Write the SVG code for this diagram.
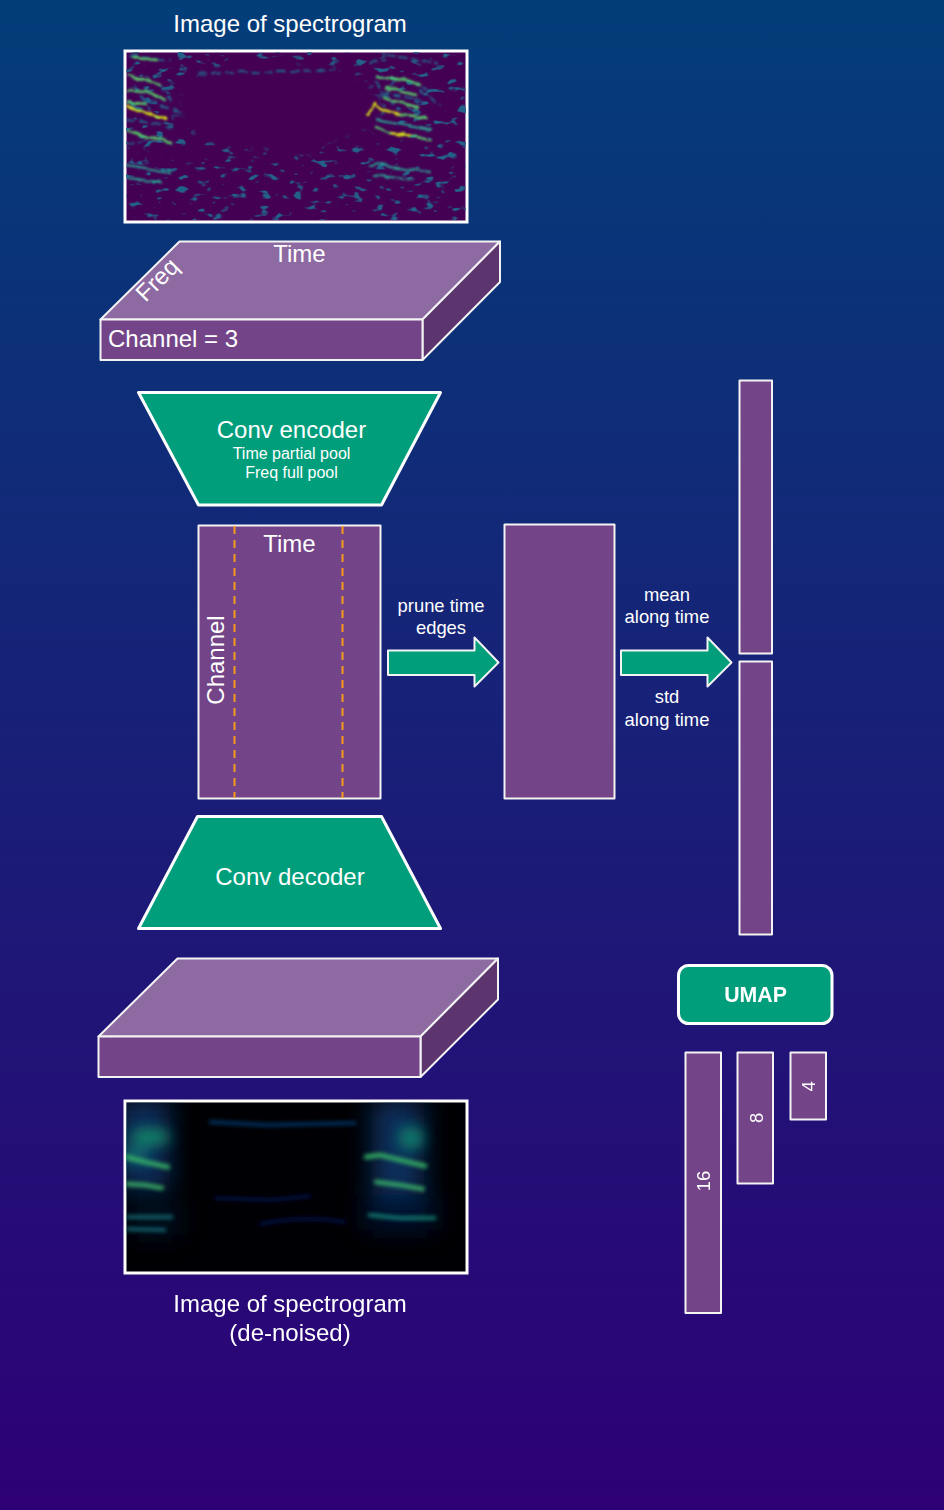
<svg xmlns="http://www.w3.org/2000/svg" width="944" height="1510" viewBox="0 0 944 1510">
<style>
text{font-family:"Liberation Sans",Arial,sans-serif;fill:#fff}
.m{text-anchor:middle}
.t24{font-size:24px}.t18{font-size:18.4px}.t14{font-size:16px}
.face{fill:#734588;stroke:#f3f3f3;stroke-width:2;stroke-linejoin:round}
.top{fill:#8e6aa2;stroke:#f3f3f3;stroke-width:2;stroke-linejoin:round}
.side{fill:#5c356f;stroke:#f3f3f3;stroke-width:2;stroke-linejoin:round}
.green{fill:#019e7c;stroke:#f3f3f3;stroke-width:2;stroke-linejoin:round}
.thick{stroke:#fff;stroke-width:3}
.s{fill:none;stroke-linecap:round;stroke-linejoin:round}
.a{stroke:#2a9d8f;stroke-width:2.200}
.b{stroke:#54c568;stroke-width:2.400}
.c{stroke:#d8e219;stroke-width:2.400}
.d{stroke:#22688c;stroke-width:1.800}
</style>
<defs>
<linearGradient id="bg" x1="0" y1="0" x2="0" y2="1"><stop offset="0" stop-color="#033e79"/><stop offset="1" stop-color="#2e0076"/></linearGradient>
<filter id="speck" x="0" y="0" width="1" height="1" color-interpolation-filters="sRGB"><feTurbulence type="fractalNoise" baseFrequency="0.085 0.15" numOctaves="2" seed="11"/><feColorMatrix values="0 0 0 0 0.14  0 0 0 0 0.38  0 0 0 0 0.54  0 0 0 7 -4.200"/><feGaussianBlur stdDeviation="0.7"/></filter>
<radialGradient id="hole" gradientUnits="userSpaceOnUse" cx="0" cy="0" r="1" gradientTransform="translate(278 106) scale(118 50)"><stop offset="0.8" stop-color="#000"/><stop offset="1" stop-color="#fff"/></radialGradient>
<mask id="mk" maskUnits="userSpaceOnUse" x="126" y="52" width="340" height="168"><rect x="126" y="52" width="340" height="168" fill="url(#hole)"/></mask>
<filter id="b1" x="-30%" y="-300%" width="160%" height="700%"><feGaussianBlur stdDeviation="2"/></filter>
<filter id="b2" x="-60%" y="-60%" width="220%" height="220%"><feGaussianBlur stdDeviation="12"/></filter>
<filter id="b3" x="-60%" y="-60%" width="220%" height="220%"><feGaussianBlur stdDeviation="7"/></filter>
<filter id="sb" x="-10%" y="-10%" width="120%" height="120%"><feTurbulence type="fractalNoise" baseFrequency="0.09" numOctaves="2" seed="3" result="n"/><feDisplacementMap in="SourceGraphic" in2="n" scale="5" xChannelSelector="R" yChannelSelector="G"/><feGaussianBlur stdDeviation="0.8"/></filter>
<clipPath id="c1"><rect x="126.500" y="52.500" width="339" height="168"/></clipPath>
<clipPath id="c2"><rect x="126" y="1102" width="340" height="170"/></clipPath>
</defs>
<rect width="944" height="1510" fill="url(#bg)"/>

<g id="spectrogram-input">
<text class="t24 m" x="290" y="32">Image of spectrogram</text>
<rect x="125" y="51" width="342" height="171" fill="#440154" stroke="#fff" stroke-width="3"/>
<g mask="url(#mk)"><rect x="126" y="52" width="340" height="168" filter="url(#speck)"/></g>
<g clip-path="url(#c1)"><g filter="url(#sb)">
<path class="s d" stroke-dasharray="7 6" d="M200 73L240 72L300 72L335 70M130 56L170 60M127 120L160 124L172 128M150 100L185 116M160 85L178 112M135 85L150 110M127 145L145 140"/>
<path class="s b" d="M133 58L157 60M127 75Q145 79 161 85M127 91L150 92L165 100M127 102L146 104"/>
<path class="s c" d="M127 107L146 113L167 119"/>
<path class="s b" d="M127 130L147 137L170 143"/>
<path class="s a" d="M127 165L145 168L170 172M127 178L160 182"/>
<path class="s d" stroke-dasharray="7 5" d="M387 55L437 63M377 76L407 80L432 92M376 82L382 92L420 100M370 62L385 60M395 80L385 95L400 110M420 90L440 105"/>
<path class="s b" d="M387 88L417 95M377 77L407 80L420 85M383 98L417 107"/>
<path class="s c" d="M368 115L375 103L383 110L400 114"/>
<path class="s b" d="M400 114L427 118"/>
<path class="s a" d="M376 120L430 130"/>
<path class="s c" d="M390 133L412 136"/>
<path class="s b" d="M377 127L390 133M412 136L430 140"/>
<path class="s a" d="M370 165L380 163L390 167L430 172M373 175L413 180"/>
</g></g>
</g>

<g id="input-block">
<polygon class="top" points="100.500,319.500 179.500,241.500 500,241.500 422.500,319.500"/>
<polygon class="side" points="422.500,319.500 500,241.500 500,282 422.500,360"/>
<rect class="face" x="100.500" y="319.500" width="322" height="40.500"/>
<text class="t24 m" x="299.500" y="262">Time</text>
<text class="t24 m" transform="translate(163 285.500) rotate(-45)">Freq</text>
<text class="t24" x="108" y="347">Channel = 3</text>
</g>

<g id="conv-encoder">
<polygon class="green thick" points="138.500,392.500 440.500,392.500 381.500,505 198.500,505"/>
<text class="t24 m" x="291.500" y="438">Conv encoder</text>
<text class="t14 m" x="291.500" y="459">Time partial pool</text>
<text class="t14 m" x="291.500" y="478">Freq full pool</text>
</g>

<g id="latent">
<rect class="face" x="198.500" y="525.500" width="182" height="273"/>
<path d="M234.500 526V798M342.500 526V798" fill="none" stroke="#f79a1c" stroke-width="2" stroke-dasharray="8 6"/>
<text class="t24 m" x="289.500" y="552">Time</text>
<text class="t24 m" transform="translate(224 660) rotate(-90)">Channel</text>
</g>

<g id="pruned"><rect class="face" x="504.500" y="524.500" width="110" height="274"/></g>
<g id="mean-bar"><rect class="face" x="739.500" y="380.500" width="32.500" height="273"/></g>
<g id="std-bar"><rect class="face" x="739.500" y="661.500" width="32.500" height="273"/></g>

<g id="connectors">
<polygon class="green" points="388,650.500 474.500,650.500 474.500,637.500 498.500,662.500 474.500,686.500 474.500,675 388,675"/>
<polygon class="green" points="621,650.500 707.500,650.500 707.500,637.500 731.500,662.500 707.500,686.500 707.500,675 621,675"/>
<text class="t18 m" x="441" y="612">prune time</text>
<text class="t18 m" x="441" y="634">edges</text>
<text class="t18 m" x="667" y="601">mean</text>
<text class="t18 m" x="667" y="623">along time</text>
<text class="t18 m" x="667" y="703">std</text>
<text class="t18 m" x="667" y="726">along time</text>
</g>

<g id="conv-decoder">
<polygon class="green thick" points="197.500,816.500 381.500,816.500 440.500,928.500 138.500,928.500"/>
<text class="t24 m" x="290" y="885">Conv decoder</text>
</g>

<g id="output-block">
<polygon class="top" points="98.500,1036.500 177.500,958.500 498,958.500 420.500,1036.500"/>
<polygon class="side" points="420.500,1036.500 498,958.500 498,999.500 420.500,1077"/>
<rect class="face" x="98.500" y="1036.500" width="322" height="40.500"/>
</g>

<g id="spectrogram-output">
<rect x="125" y="1101" width="342" height="172" fill="#000004" stroke="#fff" stroke-width="3"/>
<g clip-path="url(#c2)">
<g filter="url(#b2)" color-interpolation-filters="sRGB">
<rect x="118" y="1100" width="52" height="90" fill="#0a3f78" opacity=".75"/>
<rect x="372" y="1100" width="52" height="95" fill="#0a3f78" opacity=".75"/>
<rect x="365" y="1195" width="70" height="35" fill="#04204e" opacity=".6"/>
<rect x="130" y="1205" width="50" height="30" fill="#04204e" opacity=".4"/>
</g>
<g filter="url(#b3)" color-interpolation-filters="sRGB">
<ellipse cx="150" cy="1137" rx="20" ry="8" fill="#128a68"/>
<ellipse cx="411" cy="1138" rx="13" ry="12" fill="#0f7a6c"/>
<ellipse cx="135" cy="1155" rx="14" ry="8" fill="#0f6a70"/>
</g>
<g fill="none" stroke-linecap="round" filter="url(#b1)" color-interpolation-filters="sRGB">
<path d="M210 1122L267 1125L355 1123" stroke="#0c4a8c" stroke-width="2.500"/>
<path d="M215 1198L272 1200L310 1196M260 1224Q305 1215 345 1222" stroke="#08185e" stroke-width="2.500"/>
<path d="M127 1157L145 1162L168 1167" stroke="#35b065" stroke-width="4.500"/>
<path d="M127 1184L145 1185L162 1188" stroke="#3ab869" stroke-width="4"/>
<path d="M127 1217L172 1217M127 1229L165 1230" stroke="#147a84" stroke-width="3"/>
<path d="M366 1157L380 1155L400 1160L425 1166" stroke="#35b065" stroke-width="4.500"/>
<path d="M376 1182L400 1185L423 1189" stroke="#3ab869" stroke-width="4"/>
<path d="M369 1215L400 1218L435 1218" stroke="#169a86" stroke-width="3"/>
</g>
</g>
<text class="t24 m" x="290" y="1312">Image of spectrogram</text>
<text class="t24 m" x="290" y="1341">(de-noised)</text>
</g>

<g id="umap">
<rect class="green" x="678.500" y="965.500" width="153.500" height="58" rx="10" style="stroke-width:3;stroke:#fff"/>
<text class="m" x="755.500" y="1002" style="font-size:21.300px;font-weight:bold">UMAP</text>
</g>
<g id="bar-16"><rect class="face" x="685.500" y="1052.500" width="35.500" height="260.500"/><text class="t18 m" transform="translate(710 1181) rotate(-90)">16</text></g>
<g id="bar-8"><rect class="face" x="737.500" y="1052.500" width="35.500" height="131"/><text class="t18 m" transform="translate(762.500 1118) rotate(-90)">8</text></g>
<g id="bar-4"><rect class="face" x="790.500" y="1052.500" width="35.500" height="67"/><text class="t18 m" transform="translate(815 1086.500) rotate(-90)">4</text></g>
</svg>
